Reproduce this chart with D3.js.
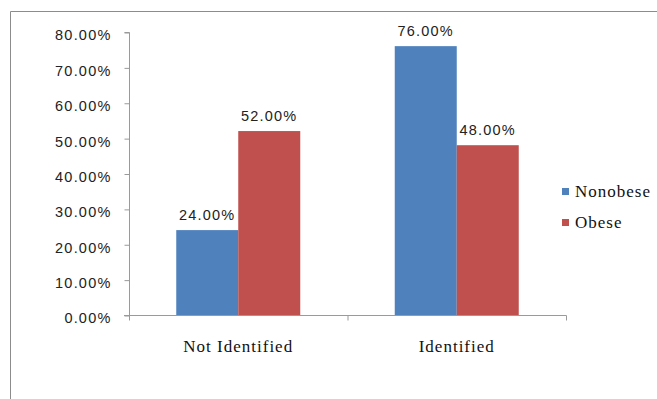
<!DOCTYPE html>
<html><head><meta charset="utf-8">
<script src="https://d3js.org/d3.v7.min.js"></script>
<style>body{margin:0;background:#fff}</style>
</head><body>
<svg id="c" width="657" height="399"></svg>
<script>
const categories = ["Not Identified", "Identified"];
const seriesNames = ["Nonobese", "Obese"];
const nonobese = [24, 76];
const obese = [52, 48];
const yTicks = [0, 10, 20, 30, 40, 50, 60, 70, 80];
const colors = ["#4F81BD", "#C0504D"];

const svg = d3.select("#c");
// outer chart border (cropped on right/bottom)
svg.append("path").attr("d", "M10.5,420 V11.5 H700")
  .attr("fill", "none").attr("stroke", "#8c8c8c").attr("stroke-width", 1);

const x0 = 129, x1 = 566, y0 = 315, yTop = 32;
const x = d3.scaleBand().domain(categories).range([x0, x1]).paddingInner(0).paddingOuter(0);
const y = d3.scaleLinear().domain([0, 80]).range([y0, yTop]);
const groupW = 124;
const xs = d3.scaleBand().domain(seriesNames).range([0, groupW]);

const data = categories.map((c, i) => ({cat: c, vals: [nonobese[i], obese[i]]}));

// y axis
const yAxis = d3.axisLeft(y).tickValues(yTicks).tickSize(5).tickPadding(13)
  .tickFormat(d => d.toFixed(2) + "%");
const gy = svg.append("g").attr("transform", `translate(${x0 + 0.5},0)`).call(yAxis);
gy.select(".domain").attr("stroke", "#9a9a9a").attr("d", `M-5,${y(80)+0.5}H0V${y0+0.5}`);
gy.selectAll(".tick line").attr("stroke", "#9a9a9a").attr("transform", "translate(0,0.5)");
gy.selectAll(".tick text").attr("font-family", "Liberation Sans, Arial, sans-serif")
  .attr("font-size", "14.5px").attr("letter-spacing", "1.2px").attr("fill", "#222")
  .attr("dy", "0.55em");

// x axis
const gx = svg.append("g").attr("transform", `translate(0,${y0 + 0.5})`);
gx.append("line").attr("x1", x0 - 5).attr("x2", x1 + 0.5).attr("stroke", "#9a9a9a");
const bounds = [x0, x0 + x.bandwidth(), x1];
gx.selectAll("line.tk").data(bounds).join("line").attr("class", "tk")
  .attr("x1", d => d + 0.5).attr("x2", d => d + 0.5).attr("y1", 0).attr("y2", 5).attr("stroke", "#9a9a9a");
gx.selectAll("text.cat").data(categories).join("text").attr("class", "cat")
  .attr("x", d => x(d) + x.bandwidth() / 2).attr("y", 36)
  .attr("text-anchor", "middle").attr("font-family", "Liberation Serif, Times New Roman, serif")
  .attr("font-size", "17px").attr("letter-spacing", "1px").attr("fill", "#111").text(d => d);

// bars
const groups = svg.selectAll("g.grp").data(data).join("g").attr("class", "grp")
  .attr("transform", d => `translate(${x(d.cat) + (x.bandwidth() - groupW) / 2},0)`);
groups.selectAll("rect").data(d => d.vals.map((v, j) => ({v, s: seriesNames[j], j})))
  .join("rect").attr("x", d => xs(d.s)).attr("width", xs.bandwidth())
  .attr("y", d => y(d.v)).attr("height", d => y0 - y(d.v)).attr("fill", d => colors[d.j]);
groups.selectAll("text").data(d => d.vals.map((v, j) => ({v, s: seriesNames[j], j})))
  .join("text").attr("x", d => xs(d.s) + xs.bandwidth() / 2).attr("y", d => y(d.v) - 10)
  .attr("text-anchor", "middle").attr("font-family", "Liberation Sans, Arial, sans-serif")
  .attr("font-size", "14.5px").attr("letter-spacing", "1.2px").attr("fill", "#222")
  .text(d => d.v.toFixed(2) + "%");

// legend
const lg = svg.append("g").attr("transform", "translate(562,188)");
const li = lg.selectAll("g").data(seriesNames).join("g").attr("transform", (d, i) => `translate(0,${i * 31})`);
li.append("rect").attr("width", 7).attr("height", 7).attr("fill", (d, i) => colors[i]);
li.append("text").attr("x", 13).attr("y", 8.5).attr("font-family", "Liberation Serif, Times New Roman, serif")
  .attr("font-size", "17px").attr("letter-spacing", "1px").attr("fill", "#111").text(d => d);
</script>
</body></html>
